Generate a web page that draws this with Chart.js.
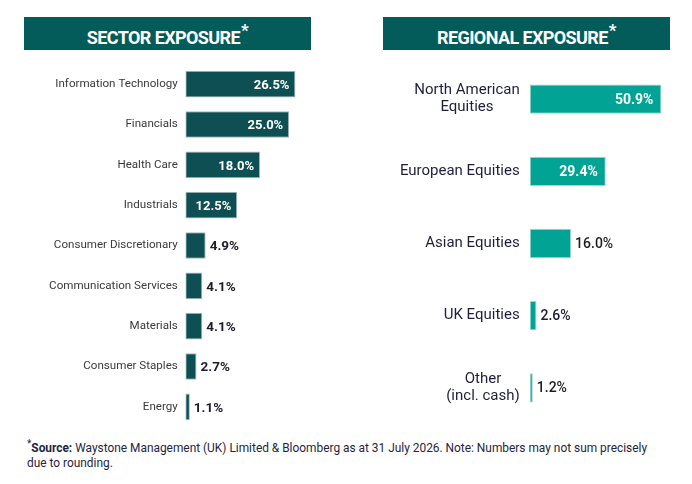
<!DOCTYPE html>
<html>
<head>
<meta charset="utf-8">
<script src="https://cdn.jsdelivr.net/npm/chart.js@4/dist/chart.umd.min.js"></script>
<style>
  html, body { margin: 0; padding: 0; background: #ffffff; }
  body { width: 692px; height: 484px; position: relative; overflow: hidden; font-family: Roboto, "Noto Sans", sans-serif; }
  .hdr { position: absolute; top: 17px; height: 33px; box-sizing: border-box; padding-top: 4px; line-height: 33px;
         background: #035b5a; color: #ffffff; font-weight: bold; font-size: 18px; text-align: center; letter-spacing: -0.6px; }
  .hdr sup { font-size: 17px; line-height: 0; position: relative; top: -1px; margin-left: 1px; }
  .box { position: absolute; }
  .foot { position: absolute; left: 27px; top: 441px; font-size: 11.9px; line-height: 15px; color: #1f2540; white-space: nowrap; }
  .foot sup { font-size: 10px; line-height: 0; }
</style>
</head>
<body>
<div class="hdr" style="left:24px;width:287px;">SECTOR EXPOSURE<sup>*</sup></div>
<div class="hdr" style="left:383px;width:287px;">REGIONAL EXPOSURE<sup>*</sup></div>

<div class="box" style="left:0px;top:64px;width:310px;height:363px;"><canvas id="sector"></canvas></div>
<div class="box" style="left:346px;top:63px;width:326px;height:361px;"><canvas id="region"></canvas></div>

<div class="foot"><sup>*</sup><b>Source:</b> Waystone Management (UK) Limited &amp; Bloomberg as at 31 July 2026. Note: Numbers may not sum precisely<br>due to rounding.</div>

<script>
const sectorLabels = ["Information Technology", "Financials", "Health Care", "Industrials",
  "Consumer Discretionary", "Communication Services", "Materials", "Consumer Staples", "Energy"];
const sectorValues = [26.5, 25.0, 18.0, 12.5, 4.9, 4.1, 4.1, 2.7, 1.1];

const regionLabels = [["North American", "Equities"], "European Equities", "Asian Equities", "UK Equities", ["Other", "(incl. cash)"]];
const regionValues = [50.9, 29.4, 16.0, 2.6, 1.2];

// Category labels: block right-aligned to the axis, lines centred within the block
const categoryLabelPlugin = {
  id: 'categoryLabels',
  afterDraw(chart, args, opts) {
    const ctx = chart.ctx;
    const y = chart.scales.y;
    ctx.save();
    ctx.font = opts.font;
    ctx.fillStyle = opts.color;
    ctx.textBaseline = 'middle';
    ctx.textAlign = 'center';
    chart.data.labels.forEach((lab, i) => {
      const lines = Array.isArray(lab) ? lab : [lab];
      const widths = lines.map(l => ctx.measureText(l).width);
      const blockW = Math.max(...widths);
      const right = chart.chartArea.left - opts.padding;
      const cx = right - blockW / 2;
      const yc = y.getPixelForValue(i);
      const y0 = yc - (lines.length - 1) * opts.lineHeight / 2;
      lines.forEach((l, k) => ctx.fillText(l, cx, y0 + k * opts.lineHeight + opts.dy));
    });
    ctx.restore();
  }
};

const valueLabelPlugin = {
  id: 'valueLabels',
  afterDatasetsDraw(chart, args, opts) {
    const ctx = chart.ctx;
    const meta = chart.getDatasetMeta(0);
    const data = chart.data.datasets[0].data;
    ctx.save();
    ctx.textBaseline = 'middle';
    meta.data.forEach((el, i) => {
      const txt = data[i].toFixed(1) + '%';
      const w = Math.abs(el.x - el.base);
      ctx.font = opts.insideFont;
      const tw = ctx.measureText(txt).width;
      if (tw + 2 * opts.pad < w) {
        ctx.fillStyle = '#ffffff';
        ctx.textAlign = 'right';
        ctx.fillText(txt, el.x - opts.pad, el.y + opts.dy);
      } else {
        ctx.font = opts.outsideFont;
        ctx.fillStyle = opts.outsideColor;
        ctx.textAlign = 'left';
        ctx.fillText(txt, el.x + opts.gap, el.y + opts.dy);
      }
    });
    ctx.restore();
  }
};

function makeChart(id, labels, values, cfg) {
  return new Chart(document.getElementById(id), {
    type: 'bar',
    data: {
      labels: labels,
      datasets: [{
        data: values,
        backgroundColor: cfg.color,
        borderColor: cfg.border,
        borderWidth: 1,
        borderSkipped: false,
        categoryPercentage: 1,
        barPercentage: cfg.barPct
      }]
    },
    options: {
      indexAxis: 'y',
      responsive: true,
      maintainAspectRatio: false,
      animation: false,
      layout: { padding: 0 },
      plugins: {
        legend: { display: false },
        tooltip: { enabled: false },
        valueLabels: cfg.valueOpts,
        categoryLabels: cfg.labelOpts
      },
      scales: {
        x: { display: false, min: 0, max: cfg.max },
        y: {
          grid: { display: false },
          border: { display: false },
          ticks: { display: false },
          afterFit(scale) {
            scale.width = cfg.axisWidth;
            scale.paddingTop = 0;
            scale.paddingBottom = 0;
          }
        }
      }
    },
    plugins: [valueLabelPlugin, categoryLabelPlugin]
  });
}

makeChart('sector', sectorLabels, sectorValues, {
  color: '#0e4f54', border: '#a9b9ba', barPct: 0.66, max: 30, axisWidth: 185.3,
  labelOpts: { font: '11.6px Roboto', color: '#3a3a3a', padding: 7.5, lineHeight: 13, dy: 0 },
  valueOpts: { insideFont: 'bold 13px Roboto', outsideFont: 'bold 13.5px Roboto', outsideColor: '#1c1c2a', pad: 6, gap: 4, dy: 1.5 }
});

makeChart('region', regionLabels, regionValues, {
  color: '#00a394', border: '#9fd6cf', barPct: 0.406, max: 55, axisWidth: 183.7,
  labelOpts: { font: '15px Roboto', color: '#1e1f3c', padding: 10, lineHeight: 17, dy: 0 },
  valueOpts: { insideFont: 'bold 14px Roboto', outsideFont: '500 14px Roboto', outsideColor: '#1c1c2a', pad: 8, gap: 4, dy: 1 }
});
</script>
</body>
</html>
